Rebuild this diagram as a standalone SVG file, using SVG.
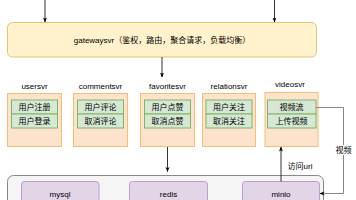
<svg xmlns="http://www.w3.org/2000/svg" width="356" height="200" viewBox="0 0 356 200">
<defs>
<marker id="arr" viewBox="0 0 10 10" refX="9" refY="5" markerWidth="5" markerHeight="5" orient="auto" markerUnits="userSpaceOnUse">
<path d="M0,1 L10,5 L0,9 L2.5,5 Z" fill="#000"/>
</marker>
<style>
text{font-family:"Liberation Sans","Noto Sans CJK SC",sans-serif;font-size:8px;fill:#000;text-anchor:middle}
.svc{fill:#fde3cb;stroke:#f5be72;stroke-width:1}
.fn{fill:#d5e8d4;stroke:#82b366;stroke-width:1}
.db{fill:#e1d5e7;stroke:#b8a0c8;stroke-width:1}
.ln{fill:none;stroke:#333;stroke-width:1}
.gl{fill:none;stroke:#888;stroke-width:1}
</style>
</defs>
<g id="gateway">
<rect x="7.5" y="22.5" width="309" height="34.5" rx="5" fill="#fff2cc" stroke="#e2c76a"/>
<text x="162" y="42.5">gatewaysvr（鉴权，路由，聚合请求，负载均衡）</text>
</g>
<g id="usersvr">
<text x="34.5" y="89">usersvr</text>
<rect class="svc" x="7.5" y="93.5" width="54" height="53"/>
<rect class="fn" x="11.5" y="100" width="46" height="14"/>
<rect class="fn" x="11.5" y="114" width="46" height="14"/>
<text x="34.5" y="110">用户注册</text>
<text x="34.5" y="124">用户登录</text>
</g>
<g id="commentsvr">
<text x="100.5" y="89">commentsvr</text>
<rect class="svc" x="73.5" y="93.5" width="54" height="53"/>
<rect class="fn" x="77.5" y="100" width="46" height="14"/>
<rect class="fn" x="77.5" y="114" width="46" height="14"/>
<text x="100.5" y="110">用户评论</text>
<text x="100.5" y="124">取消评论</text>
</g>
<g id="favoritesvr">
<text x="167.5" y="89">favoritesvr</text>
<rect class="svc" x="140.5" y="93.5" width="54" height="53"/>
<rect class="fn" x="144.5" y="100" width="46" height="14"/>
<rect class="fn" x="144.5" y="114" width="46" height="14"/>
<text x="167.5" y="110">用户点赞</text>
<text x="167.5" y="124">取消点赞</text>
</g>
<g id="relationsvr">
<text x="229" y="89">relationsvr</text>
<rect class="svc" x="202.5" y="93.5" width="53" height="53"/>
<rect class="fn" x="206" y="100" width="46" height="14"/>
<rect class="fn" x="206" y="114" width="46" height="14"/>
<text x="229" y="110">用户关注</text>
<text x="229" y="124">取消关注</text>
</g>
<g id="videosvr">
<text x="290" y="87">videosvr</text>
<rect class="svc" x="265" y="92.5" width="53" height="54" stroke="#f5b15a"/>
<rect class="fn" x="267.5" y="100" width="48.5" height="14"/>
<rect class="fn" x="267.5" y="114" width="48.5" height="14"/>
<text x="291.5" y="110">视频流</text>
<text x="291.5" y="124">上传视频</text>
</g>
<g id="storage">
<rect x="7.5" y="175.5" width="316" height="40" rx="6" fill="#f5f5f5" stroke="#888"/>
</g>
<g id="mysql">
<rect class="db" x="21.5" y="181.5" width="77.5" height="30" rx="3"/>
<text x="60" y="197">mysql</text>
</g>
<g id="redis">
<rect class="db" x="129.5" y="181.5" width="78" height="30" rx="3"/>
<text x="168.5" y="197">redis</text>
</g>
<g id="minio">
<rect class="db" x="242.5" y="181.5" width="77" height="30" rx="3"/>
<text x="281" y="197">minio</text>
</g>
<g id="connectors">
<line class="ln" x1="45" y1="0" x2="45" y2="22" marker-end="url(#arr)"/>
<line class="ln" x1="274.5" y1="0" x2="274.5" y2="22" marker-end="url(#arr)"/>
<line class="ln" x1="162" y1="57" x2="162" y2="77" marker-end="url(#arr)"/>
<line class="ln" x1="167.5" y1="147" x2="167.5" y2="171.5" marker-end="url(#arr)"/>
<line class="ln" x1="281" y1="181.5" x2="281" y2="147" marker-end="url(#arr)"/>
<text x="300" y="169">访问url</text>
<path class="gl" d="M316,107.5 H343.5 V193.5 H320" marker-end="url(#arr)"/>
<rect x="334" y="145" width="19" height="10" fill="#fff"/>
<text x="343.5" y="153">视频</text>
</g>
</svg>
